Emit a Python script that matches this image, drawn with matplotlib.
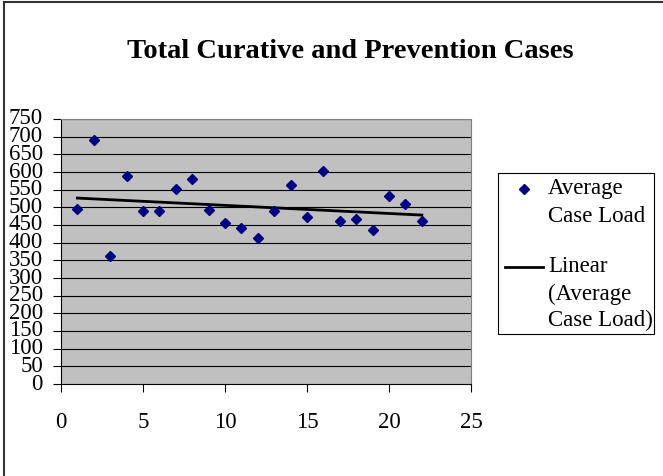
import numpy as np
import matplotlib
matplotlib.use("Agg")
import matplotlib.pyplot as plt
from matplotlib.lines import Line2D
from matplotlib.patches import Rectangle

# ---- data ----
semanas = list(range(1, 23))
carga_media = [495, 691, 362, 589, 490, 490, 551, 580, 493, 457, 441,
               412, 491, 564, 474, 602, 461, 466, 436, 531, 510, 461]
titulo = "Total Curative and Prevention Cases"
y_ticks = list(range(0, 751, 50))
x_ticks = [0, 5, 10, 15, 20, 25]

plt.rcParams['font.family'] = ['Liberation Serif', 'DejaVu Serif']

W, H = 663, 476
FS = 16.5
fig = plt.figure(figsize=(W / 100, H / 100), dpi=100)
fig.patch.set_facecolor('white')

ax = fig.add_axes([61 / W, 1 - 384 / H, (471 - 61) / W, (384 - 119) / H])
ax.set_facecolor('#c0c0c0')

# lineas de cuadricula
for v in y_ticks[1:]:
    ax.axhline(v, color='black', linewidth=0.8, zorder=1)

x = np.array(semanas)
y = np.array(carga_media)
ax.plot(x, y, linestyle='none', marker='D', markersize=5.5,
        color='#000080', zorder=3)

# tendencia lineal
m, b = np.polyfit(x, y, 1)
xt = np.array([x.min(), x.max()])
ax.plot(xt, m * xt + b, color='black', linewidth=2, zorder=2)

ax.set_xlim(0, 25)
ax.set_ylim(0, 750)
ax.set_xticks(x_ticks)
ax.set_yticks(y_ticks)
ax.tick_params(axis='both', direction='out', length=6, width=0.8,
               labelsize=FS, colors='black')
ax.tick_params(axis='x', pad=14)
ax.tick_params(axis='y', pad=7)
for lbl in ax.get_yticklabels():
    lbl.set_verticalalignment('center')
ax.spines['left'].set_color('black')
ax.spines['bottom'].set_color('black')
ax.spines['top'].set_color('#808080')
ax.spines['right'].set_color('#808080')

fig.text(350 / W, 1 - 52 / H, titulo, ha='center', va='center',
         fontsize=20.5, fontweight='bold')

# leyenda manual
fx = lambda px: px / W
fy = lambda py: 1 - py / H
fig.add_artist(Rectangle((fx(498), fy(334)), (654 - 498) / W, (334 - 173) / H,
                         transform=fig.transFigure, facecolor='white',
                         edgecolor='black', linewidth=0.8))
fig.add_artist(Line2D([fx(524)], [fy(189)], marker='D', markersize=5.5,
                      color='#000080', linestyle='none', transform=fig.transFigure))
fig.text(fx(548), fy(189), "Average", fontsize=FS, va='center')
fig.text(fx(548), fy(217), "Case Load", fontsize=FS, va='center')
fig.add_artist(Line2D([fx(505), fx(543)], [fy(267), fy(267)], color='black',
                      linewidth=2, transform=fig.transFigure))
fig.text(fx(548), fy(267), "Linear", fontsize=FS, va='center')
fig.text(fx(548), fy(294), "(Average", fontsize=FS, va='center')
fig.text(fx(548), fy(320), "Case Load)", fontsize=FS, va='center')

# borde del area del grafico
fig.add_artist(Line2D([fx(4), fx(4)], [0, fy(2)], color='#333333',
                      linewidth=1.5, transform=fig.transFigure))
fig.add_artist(Line2D([fx(4), 1], [fy(2), fy(2)], color='#333333',
                      linewidth=1.5, transform=fig.transFigure))

fig.savefig('out.png', dpi=100)
